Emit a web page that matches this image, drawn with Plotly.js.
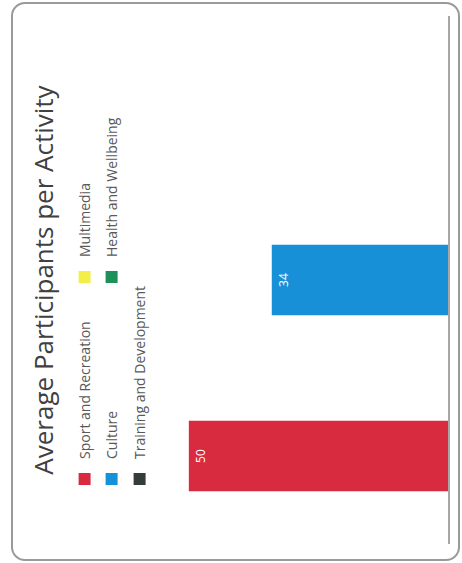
<!DOCTYPE html>
<html>
<head>
<meta charset="utf-8">
<script src="https://cdn.plot.ly/plotly-3.0.1.min.js"></script>
<style>
  html, body { margin: 0; padding: 0; background: #ffffff; width: 462px; height: 563px; overflow: hidden; }
  #chart { position: absolute; left: 0; top: 0; width: 563px; height: 462px;
           transform-origin: 0 0; transform: translate(0px, 563px) rotate(-90deg); }
  #frame { position: absolute; left: 11px; top: 2px; width: 449px; height: 559px;
           box-sizing: border-box; border: 2px solid #9a9a9a; border-radius: 14px;
           pointer-events: none; }
</style>
</head>
<body>
<div id="chart"></div>
<div id="frame"></div>
<script>
// ---- data ----
const activities = ["Sport and Recreation", "Culture", "Training and Development", "Multimedia", "Health and Wellbeing"];
const participants = [50, 34, 0, 0, 0];
const slots = ["Sport and Recreation", "Culture", "Training and Development"];
const chartTitle = "Average Participants per Activity";

// ---- styles ----
const colors = ["#D92B40", "#1790D7", "#353C3A", "#F3EF4A", "#1C9159"];
const legendOf = ["legend", "legend2", "legend3", "legend", "legend2"];

const traces = activities.map((name, i) => ({
  type: "bar",
  name: name,
  x: [name],
  y: [participants[i]],
  marker: { color: colors[i], line: { width: 0 } },
  text: [participants[i] > 0 ? String(participants[i]) : ""],
  textposition: "inside",
  insidetextanchor: "end",
  textangle: 0,
  textfont: { family: "Open Sans", size: 12, color: "#ffffff" },
  legend: legendOf[i],
  hoverinfo: "skip"
}));

const W = 563, H = 462;
const legendFont = { family: "Open Sans", size: 14, color: "#595959" };
function leg(uy, ew) {
  return {
    orientation: "h",
    xref: "container", yref: "container",
    x: 64 / W, y: 1 - uy / H,
    xanchor: "left", yanchor: "middle",
    font: legendFont,
    entrywidth: ew,
    bgcolor: "rgba(0,0,0,0)",
    itemclick: false, itemdoubleclick: false
  };
}

const layout = {
  width: W, height: H,
  margin: { l: 19, r: 16, t: 137, b: 14, pad: 0, autoexpand: false },
  paper_bgcolor: "#ffffff",
  plot_bgcolor: "#ffffff",
  barmode: "overlay",
  bargap: 0.6,
  title: {
    text: chartTitle,
    font: { family: "Open Sans", size: 26, color: "#404040" },
    xref: "paper", x: 0.5, xanchor: "center",
    yref: "container", y: 1 - 44 / H, yanchor: "middle"
  },
  xaxis: {
    type: "category",
    categoryorder: "array",
    categoryarray: slots,
    range: [-0.5, slots.length - 0.5],
    showticklabels: false,
    ticks: "",
    showgrid: false,
    zeroline: false,
    showline: true,
    linecolor: "#a6a6a6",
    linewidth: 1.5,
    fixedrange: true
  },
  yaxis: {
    range: [0, 60],
    visible: false,
    showgrid: false,
    zeroline: false,
    fixedrange: true
  },
  showlegend: true,
  legend: leg(85, 157),
  legend2: leg(112, 157),
  legend3: leg(140, 230)
};

Plotly.newPlot("chart", traces, layout, { displayModeBar: false, staticPlot: true });
</script>
</body>
</html>
